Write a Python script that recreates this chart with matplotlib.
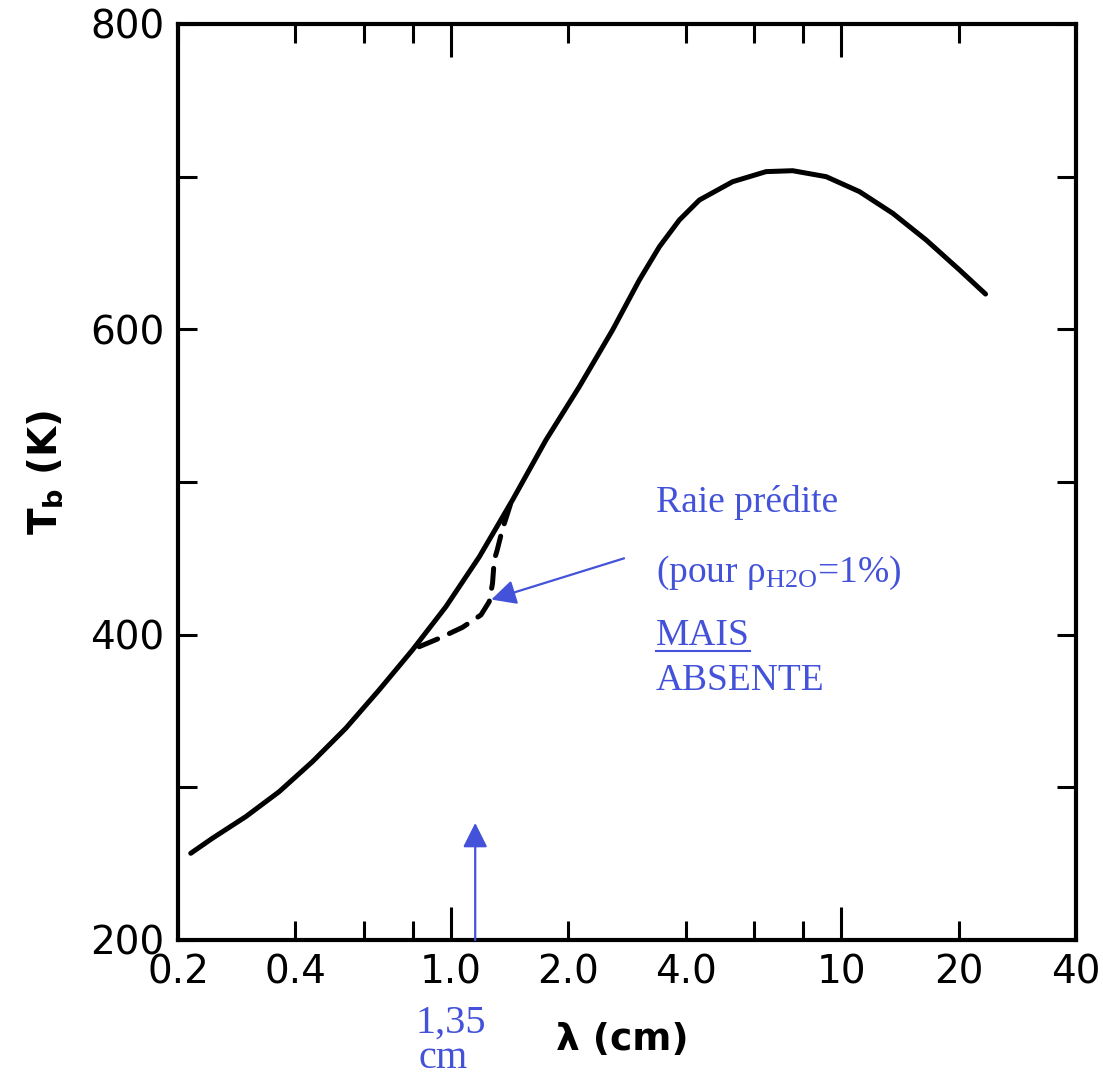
import matplotlib
matplotlib.use('Agg')
import matplotlib.pyplot as plt
from matplotlib.lines import Line2D

plt.rcParams['font.family'] = ['DejaVu Sans']
plt.rcParams['mathtext.fontset'] = 'custom'
plt.rcParams['mathtext.rm'] = 'Liberation Serif'
plt.rcParams['mathtext.it'] = 'Liberation Serif:italic'
plt.rcParams['mathtext.sf'] = 'DejaVu Sans:bold'

# brightness temperature spectrum
lam = [0.2156, 0.2449, 0.2983, 0.3631, 0.4421, 0.5383, 0.6553, 0.7977,
       0.9715, 1.1826, 1.4394, 1.7532, 2.1342, 2.598, 3.042,
       3.424, 3.852, 4.335, 5.276, 6.428, 7.518, 9.160, 11.15, 13.57,
       16.53, 20.12, 23.46]
tb = [256.8, 266.6, 280.8, 297.1, 316.8, 338.7, 363.8, 390.0,
      418.3, 450.9, 488.2, 527.5, 562.4, 599.6, 632.3,
      654.1, 671.6, 684.7, 696.7, 703.3, 703.9, 700.0, 690.2, 676.0,
      658.5, 638.9, 623.1]

# predicted water line (dashed)
lam_line = [0.8298, 0.9338, 1.0716, 1.1946, 1.2545, 1.2792, 1.2922,
            1.3152, 1.3548, 1.412, 1.428]
tb_line = [392.1, 397.6, 404.8, 412.9, 421.6, 433.6, 448.9,
           455.5, 468.6, 482.9, 487.0]

xlabels_at = [0.2, 0.4, 0.6, 0.8, 2, 4, 6, 8, 20, 40]
xlabels_txt = ['0.2', '0.4', '', '', '2.0', '4.0', '', '', '20', '40']
xmajor_at = [1, 10]
xmajor_txt = ['1.0', '10']
yticks_at = [200, 300, 400, 500, 600, 700, 800]
yticks_txt = ['200', '', '400', '', '600', '', '800']

arrow_lam = 1.155          # position of the 1,35 cm marker
arrow_tip = 276.7
note_tail = (2.78, 450)
note_tip = (1.27, 423)

blue = '#4352d8'

fig = plt.figure(figsize=(11.03, 10.76), dpi=100)
ax = fig.add_axes([0.1614, 0.1264, 0.8141, 0.8513])

ax.plot(lam, tb, color='black', lw=3.6, solid_capstyle='round',
        solid_joinstyle='round')
ax.plot(lam_line, tb_line, color='black', lw=3.6, linestyle=(0, (4, 2.6)),
        dash_capstyle='round', dash_joinstyle='round')

ax.set_xscale('log')
ax.set_xlim(0.2, 40)
ax.set_ylim(200, 800)

ax.set_xticks(xmajor_at, xmajor_txt)
ax.set_xticks(xlabels_at, xlabels_txt, minor=True)
ax.set_yticks(yticks_at, yticks_txt)
ax.tick_params(axis='x', which='major', direction='in', length=24, width=2.2,
               top=True, labelsize=28, pad=10)
ax.tick_params(axis='x', which='minor', direction='in', length=14, width=2.2,
               top=True, labelsize=28, pad=10)
ax.tick_params(axis='y', which='major', direction='in', length=14, width=2.2,
               right=True, labelsize=28, pad=10)
for s in ax.spines.values():
    s.set_linewidth(3)

fig.text(0.564, 0.0335, 'λ (cm)', ha='center', va='center', fontsize=27,
         fontweight='bold')
fig.text(0.041, 0.5613, r'$\mathsf{T_b}$ (K)', ha='center', va='center',
         fontsize=28, fontweight='bold', rotation=90)

# blue annotations
head = '-|>,head_length=0.5,head_width=0.25'
ax.annotate('', xy=(arrow_lam, arrow_tip), xytext=(arrow_lam, 200),
            arrowprops=dict(arrowstyle=head, color=blue, lw=1.6,
                            mutation_scale=30, shrinkA=0, shrinkB=0))
ax.annotate('', xy=note_tip, xytext=note_tail,
            arrowprops=dict(arrowstyle=head, color=blue, lw=1.6,
                            mutation_scale=30, shrinkA=0, shrinkB=0))

serif = dict(family='Liberation Serif', color=blue, fontsize=27,
             va='baseline')
fig.text(0.5947, 0.5242, 'Raie prédite', **serif)
fig.text(0.5947, 0.4591, r'(pour $\mathrm{\rho_{H2O}}$=1%)', **serif)
mais = fig.text(0.5947, 0.4006, 'MAIS', **serif)
fig.text(0.5947, 0.3587, 'ABSENTE', **serif)
fig.text(0.377, 0.04, '1,35', ha='left', **dict(serif, fontsize=29))
fig.text(0.379, 0.0074, 'cm', ha='left', **dict(serif, fontsize=29))

fig.canvas.draw()
bb = mais.get_window_extent().transformed(fig.transFigure.inverted())
fig.add_artist(Line2D([bb.x0, bb.x1], [bb.y0 + 0.002, bb.y0 + 0.002],
                      transform=fig.transFigure, color=blue, lw=1.5))

fig.savefig('out.png', dpi=100)
